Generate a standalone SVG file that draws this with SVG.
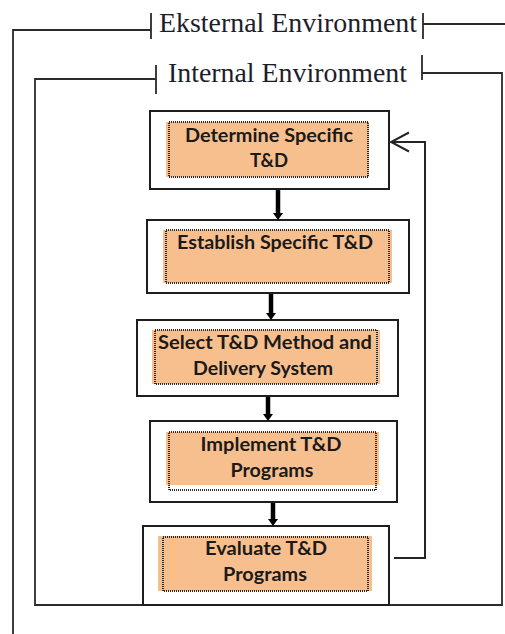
<svg xmlns="http://www.w3.org/2000/svg" width="505" height="634" viewBox="0 0 505 634">
  <style>
    .env { fill: none; stroke: #2b2b2b; stroke-width: 1.8; }
    .envlabel { font-family: "Liberation Serif", "Times New Roman", serif; font-size: 27.5px; fill: #1d1d2a; }
    .box { fill: #ffffff; stroke: #1e1e1e; stroke-width: 2; }
    .fill { fill: #f8bf8e; stroke: none; }
    .dots { fill: none; stroke: #2a2a2a; stroke-width: 2; stroke-dasharray: 1 1; shape-rendering: crispEdges; }
    .label { font-family: Lato, "Open Sans", "Liberation Sans", sans-serif; font-weight: bold; font-size: 19px; fill: #1a1a1a; text-anchor: middle; }
    .flow { stroke: #000000; stroke-width: 4.5; fill: none; }
    .head { fill: #000000; }
    .loop { fill: none; stroke: #252525; stroke-width: 2; }
  </style>
  <defs>
    <marker id="open-head" markerUnits="userSpaceOnUse" markerWidth="22" markerHeight="22" viewBox="0 0 22 22" refX="20" refY="11" orient="auto">
      <path d="M2,1.5 L20,11 L2,20.5" fill="none" stroke="#252525" stroke-width="2"/>
    </marker>
  </defs>

  <!-- environment frames -->
  <g id="external-environment">
    <path class="env" d="M505,24 H423 M423,13 V39 M151,13 V39 M151,30 H13 V634"/>
    <text class="envlabel" x="159" y="32" textLength="258" lengthAdjust="spacingAndGlyphs">Eksternal Environment</text>
  </g>
  <g id="internal-environment">
    <path class="env" d="M156,79 H35 V605 H502 V73 H422 M156,65 V94 M422,55 V80"/>
    <text class="envlabel" x="168" y="82" textLength="239" lengthAdjust="spacingAndGlyphs">Internal Environment</text>
  </g>

  <!-- process steps -->
  <g id="determine">
    <rect class="box" x="150" y="111" width="239" height="78"/>
    <rect class="fill" x="166" y="122" width="203" height="55"/>
    <rect class="dots" x="169" y="122" width="199" height="55"/>
    <text class="label" x="269" y="142" textLength="168" lengthAdjust="spacingAndGlyphs">Determine Specific</text>
    <text class="label" x="269" y="167" textLength="38" lengthAdjust="spacingAndGlyphs">T&amp;D</text>
  </g>
  <g id="establish">
    <rect class="box" x="147" y="220" width="262" height="73"/>
    <rect class="fill" x="163" y="230" width="229" height="53"/>
    <rect class="dots" x="166" y="230" width="223" height="53"/>
    <text class="label" x="275" y="249" textLength="196" lengthAdjust="spacingAndGlyphs">Establish Specific T&amp;D</text>
  </g>
  <g id="select">
    <rect class="box" x="137" y="320" width="261" height="76"/>
    <rect class="fill" x="152" y="330" width="228" height="54"/>
    <rect class="dots" x="155" y="330" width="222" height="54"/>
    <text class="label" x="265" y="349" textLength="214" lengthAdjust="spacingAndGlyphs">Select T&amp;D Method and</text>
    <text class="label" x="263" y="375" textLength="140" lengthAdjust="spacingAndGlyphs">Delivery System</text>
  </g>
  <g id="implement">
    <rect class="box" x="150" y="421" width="247" height="81"/>
    <rect class="fill" x="166" y="432" width="213" height="53"/>
    <rect class="dots" x="169" y="432" width="207" height="58"/>
    <text class="label" x="271" y="451" textLength="141" lengthAdjust="spacingAndGlyphs">Implement T&amp;D</text>
    <text class="label" x="272" y="477" textLength="83" lengthAdjust="spacingAndGlyphs">Programs</text>
  </g>
  <g id="evaluate">
    <rect class="box" x="143" y="526" width="246" height="79"/>
    <rect class="fill" x="158" y="536" width="214" height="55"/>
    <rect class="dots" x="163" y="537" width="205" height="54"/>
    <text class="label" x="266" y="555" textLength="122" lengthAdjust="spacingAndGlyphs">Evaluate T&amp;D</text>
    <text class="label" x="265" y="581" textLength="84" lengthAdjust="spacingAndGlyphs">Programs</text>
  </g>

  <!-- connectors: thick step arrows and the feedback loop -->
  <g id="connectors">
    <line class="flow" x1="278" y1="190" x2="278" y2="214"/>
    <path class="head" d="M273,213 H283 L278,220 Z"/>
    <line class="flow" x1="271" y1="294" x2="271" y2="314"/>
    <path class="head" d="M266,313 H276 L271,320 Z"/>
    <line class="flow" x1="268" y1="397" x2="268" y2="415"/>
    <path class="head" d="M263,414 H273 L268,421 Z"/>
    <line class="flow" x1="273" y1="503" x2="273" y2="520"/>
    <path class="head" d="M268,519 H278 L273,526 Z"/>
    <path class="loop" d="M394,558 H425 V142 H391" marker-end="url(#open-head)"/>
  </g>
</svg>
